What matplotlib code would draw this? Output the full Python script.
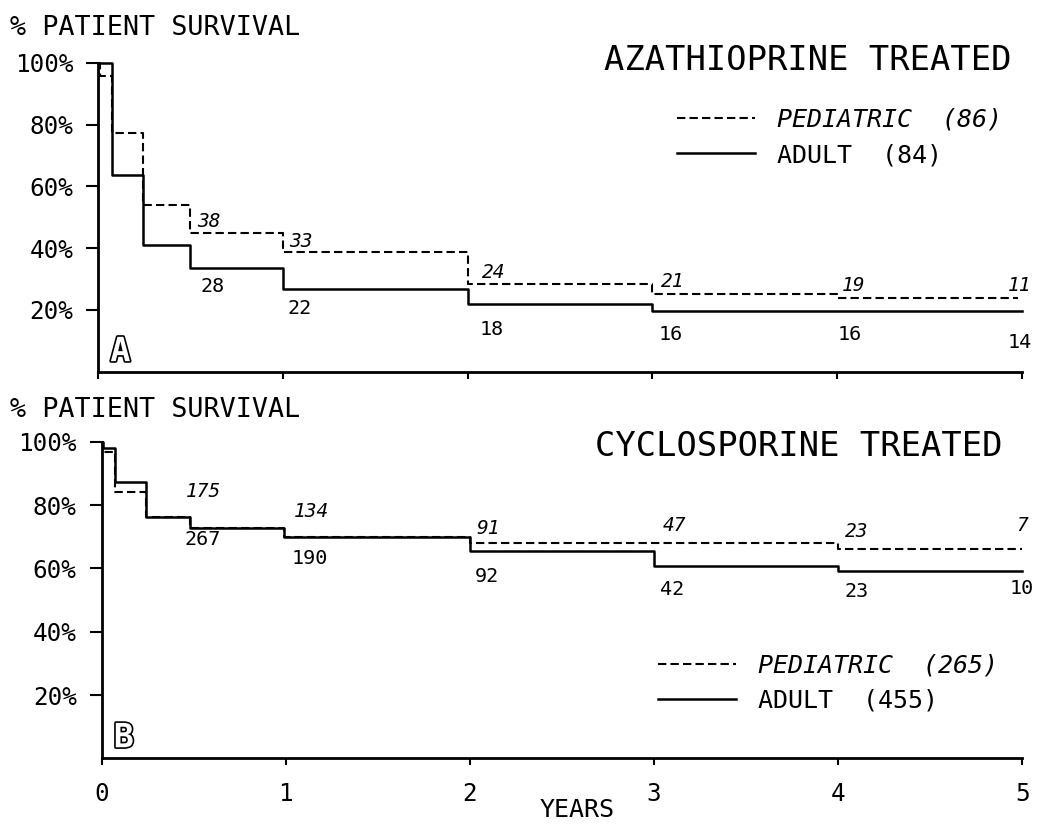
import matplotlib
matplotlib.use("Agg")
import matplotlib.pyplot as plt
import matplotlib.patheffects as pe

plt.rcParams['font.family'] = ['DejaVu Sans Mono']

# panel A: azathioprine treated (times in years, survival in %)
times_a_ped = [0, 0.01, 0.072, 0.244, 0.494, 1.0, 2.0, 3.0, 4.0, 4.98]
surv_a_ped = [100, 95.7, 77.1, 53.8, 44.9, 38.8, 28.4, 25.0, 23.7, 23.7]
times_a_adult = [0, 0.072, 0.244, 0.494, 1.0, 2.0, 3.0, 5.0]
surv_a_adult = [100, 63.5, 40.9, 33.5, 26.7, 21.9, 19.7, 19.7]

ped_a_counts = ['38', '33', '24', '21', '19', '11']
adult_a_counts = ['28', '22', '18', '16', '16', '14']

# panel B: cyclosporine treated
times_b_ped = [0, 0.005, 0.073, 0.24, 0.48, 0.99, 2.0, 3.0, 4.0, 5.0]
surv_b_ped = [100, 96.8, 84.2, 76.1, 72.8, 69.9, 68.0, 68.0, 66.0, 66.0]
times_b_adult = [0, 0.005, 0.073, 0.24, 0.48, 0.99, 2.0, 3.0, 4.0, 5.0]
surv_b_adult = [100, 97.9, 87.4, 76.1, 72.8, 69.9, 65.5, 60.7, 59.2, 59.2]

ped_b_counts = ['175', '134', '91', '47', '23', '7']
adult_b_counts = ['267', '190', '92', '42', '23', '10']

legend_a = ['PEDIATRIC  (86)', 'ADULT  (84)']
legend_b = ['PEDIATRIC  (265)', 'ADULT  (455)']

ytick_vals = [20, 40, 60, 80, 100]
ytick_labels = ['20%', '40%', '60%', '80%', '100%']
xtick_vals = [0, 1, 2, 3, 4, 5]

# where the numbers at risk sit (years, %)
lab_a_ped_x = [0.60, 1.10, 2.14, 3.11, 4.09, 4.99]
lab_a_ped_y = [48.5, 42.0, 32.0, 29.1, 28.0, 28.0]
lab_a_adult_x = [0.62, 1.09, 2.13, 3.10, 4.07, 4.99]
lab_a_adult_y = [27.5, 20.5, 13.5, 11.9, 12.2, 9.4]
lab_b_ped_x = [0.55, 1.14, 2.10, 3.11, 4.10, 5.0]
lab_b_ped_y = [84.2, 77.9, 72.5, 73.7, 71.6, 73.7]
lab_b_adult_x = [0.55, 1.13, 2.09, 3.10, 4.10, 5.0]
lab_b_adult_y = [69.0, 63.2, 57.3, 53.4, 52.6, 53.7]

dash = (0, (4, 2))


def setup_axes(ax, show_xlabels):
    ax.set_xlim(0, 5)
    ax.set_ylim(0, 100)
    for s in ['top', 'right']:
        ax.spines[s].set_visible(False)
    for s in ['left', 'bottom']:
        ax.spines[s].set_linewidth(2)
    ax.set_yticks(ytick_vals)
    ax.set_yticklabels(ytick_labels)
    ax.set_xticks(xtick_vals)
    if show_xlabels:
        ax.set_xticklabels([str(v) for v in xtick_vals])
    else:
        ax.set_xticklabels([])
    ax.tick_params(axis='y', direction='out', length=9, width=1.5, pad=9,
                   labelsize=17.5)
    ax.tick_params(axis='x', direction='out', length=5, width=1.5, pad=12,
                   labelsize=17.5)


def draw_panel(ax, tp, sp, ta, sa, pc, ac, px, py, axx, ay, leg, letter,
               leg_anchor):
    l1, = ax.step(tp, sp, where='post', color='black', lw=1.5,
                  linestyle=dash, clip_on=False)
    l2, = ax.step(ta, sa, where='post', color='black', lw=1.8, clip_on=False)
    for i in range(len(pc)):
        ax.text(px[i], py[i], pc[i], ha='center', va='center', fontsize=14,
                style='italic', clip_on=False)
    for i in range(len(ac)):
        ax.text(axx[i], ay[i], ac[i], ha='center', va='center', fontsize=14.5,
                clip_on=False)
    ax.text(0.12, 6.5, letter, ha='center', va='center', fontsize=24,
            fontweight='bold', color='white',
            path_effects=[pe.withStroke(linewidth=2.4, foreground='black')])
    lg = ax.legend([l1, l2], leg, loc='center left', frameon=False,
                   bbox_to_anchor=leg_anchor, bbox_transform=fig.transFigure,
                   fontsize=18, handlelength=3.1, handletextpad=0.9,
                   labelspacing=0.45, borderpad=0, borderaxespad=0)
    lg.get_texts()[0].set_fontstyle('italic')


fig = plt.figure(figsize=(10.5, 8.24), dpi=100)
axA = fig.add_axes([0.0936, 0.5489, 0.8794, 0.375])
axB = fig.add_axes([0.0969, 0.0797, 0.8765, 0.3842])

setup_axes(axA, False)
setup_axes(axB, True)

draw_panel(axA, times_a_ped, surv_a_ped, times_a_adult, surv_a_adult,
           ped_a_counts, adult_a_counts, lab_a_ped_x, lab_a_ped_y,
           lab_a_adult_x, lab_a_adult_y, legend_a, 'A', (0.6448, 0.833))
draw_panel(axB, times_b_ped, surv_b_ped, times_b_adult, surv_b_adult,
           ped_b_counts, adult_b_counts, lab_b_ped_x, lab_b_ped_y,
           lab_b_adult_x, lab_b_adult_y, legend_b, 'B', (0.6267, 0.1711))

fig.text(0.0095, 0.966, '% PATIENT SURVIVAL', ha='left', va='center',
         fontsize=19.3)
fig.text(0.0095, 0.5024, '% PATIENT SURVIVAL', ha='left', va='center',
         fontsize=19.3)
fig.text(0.9638, 0.927, 'AZATHIOPRINE TREATED', ha='right', va='center',
         fontsize=24.3)
fig.text(0.9552, 0.4587, 'CYCLOSPORINE TREATED', ha='right', va='center',
         fontsize=24.3)

axB.set_xlabel('YEARS', fontsize=18)
axB.xaxis.set_label_coords(0.516, -0.125)

fig.savefig('out.png', dpi=100)
